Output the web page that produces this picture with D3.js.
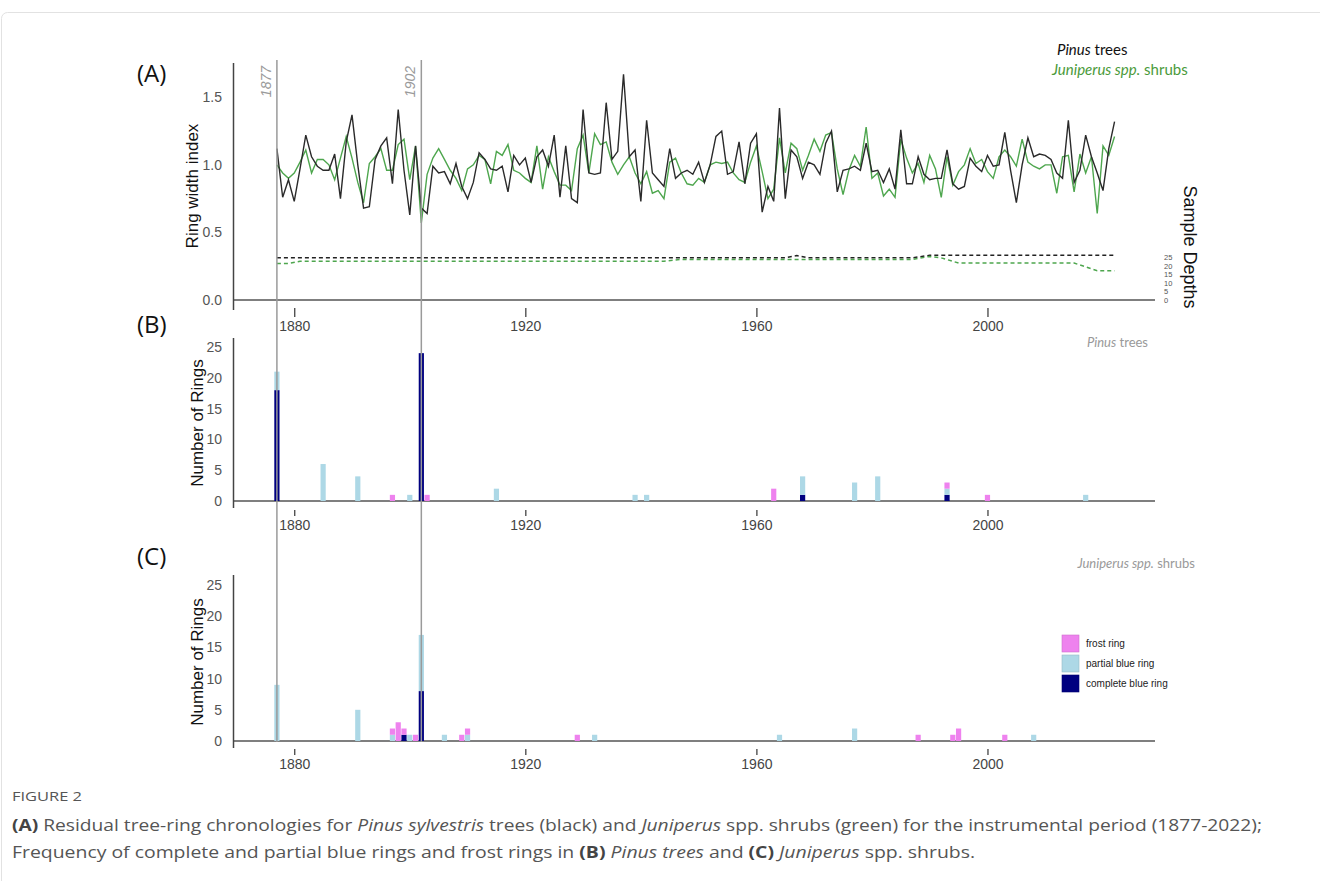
<!DOCTYPE html>
<html>
<head>
<meta charset="utf-8">
<script src="https://cdn.jsdelivr.net/npm/d3@7"></script>
<style>
  body { margin: 0; background: #fff; }
  svg { display: block; }
</style>
</head>
<body>
<div id="chart"></div>
<script>
// ---- data ----
const firstYear = 1877, lastYear = 2022;
const years = d3.range(firstYear, lastYear + 1);

// residual ring width index, Pinus sylvestris (black)
const pinusRwi = [
  1.12, 0.76, 0.89, 0.73, 0.97, 1.22, 1.06, 0.99, 0.96, 0.96,
  1.08, 0.75, 1.17, 1.37, 1.00, 0.68, 0.69, 1.04, 1.14, 1.20,
  0.86, 1.41, 0.96, 0.63, 1.14, 0.68, 0.64, 0.99, 0.94, 0.95,
  0.86, 1.01, 0.84, 0.75, 0.87, 1.09, 1.04, 0.97, 0.96, 0.99,
  0.80, 1.07, 1.00, 1.05, 0.87, 1.06, 1.11, 0.99, 1.22, 0.76,
  1.14, 0.75, 0.72, 1.41, 0.94, 0.93, 0.94, 1.46, 1.04, 1.10,
  1.67, 1.06, 1.11, 0.73, 1.33, 0.94, 0.89, 0.84, 1.12, 0.90,
  0.94, 0.96, 0.93, 1.02, 0.87, 1.00, 1.21, 1.25, 0.93, 0.95,
  1.17, 0.86, 1.16, 1.23, 0.65, 0.84, 0.73, 1.42, 0.75, 1.11,
  1.06, 0.90, 1.02, 1.00, 0.93, 1.16, 1.25, 0.80, 0.96, 0.97,
  0.99, 0.96, 1.16, 0.95, 0.96, 0.87, 0.97, 0.82, 1.26, 0.86,
  0.86, 1.06, 0.93, 0.89, 0.90, 0.90, 1.11, 0.86, 0.82, 0.84,
  1.05, 0.99, 0.95, 1.07, 0.99, 1.00, 1.24, 0.96, 0.72, 1.00,
  1.20, 1.06, 1.08, 1.07, 1.04, 0.94, 0.90, 1.33, 0.87, 0.96,
  1.22, 1.06, 0.94, 0.81, 1.12, 1.32
];

// residual ring width index, Juniperus spp. (green)
const juniperusRwi = [
  1.00, 0.94, 0.90, 0.94, 1.02, 1.11, 0.94, 1.04, 1.04, 1.00,
  0.89, 1.05, 1.21, 1.05, 0.87, 0.72, 1.01, 1.06, 1.12, 0.96,
  0.96, 1.15, 1.19, 0.89, 1.14, 0.57, 0.93, 1.05, 1.12, 1.04,
  0.96, 0.90, 0.81, 0.97, 1.00, 1.07, 1.04, 0.86, 1.10, 1.07,
  1.15, 0.96, 0.94, 0.90, 0.87, 1.14, 0.82, 1.06, 0.95, 0.85,
  0.85, 0.81, 1.12, 1.22, 0.94, 1.23, 1.15, 1.17, 1.02, 0.93,
  1.00, 1.06, 0.94, 0.86, 0.95, 0.79, 0.81, 0.75, 1.02, 1.05,
  0.94, 0.86, 0.85, 0.90, 0.87, 1.00, 1.02, 1.01, 1.02, 0.94,
  0.89, 0.87, 1.02, 1.14, 0.95, 0.75, 0.82, 1.20, 0.94, 1.16,
  1.12, 0.96, 1.07, 1.19, 1.10, 1.22, 1.24, 0.97, 0.78, 0.96,
  1.07, 0.99, 1.28, 0.90, 0.94, 0.77, 0.82, 0.76, 1.19, 1.05,
  0.94, 1.01, 0.87, 1.07, 0.97, 0.76, 1.06, 0.85, 0.95, 1.00,
  1.12, 1.01, 1.04, 0.95, 0.90, 1.06, 1.11, 1.06, 0.99, 1.19,
  1.02, 0.99, 0.97, 1.00, 1.00, 0.79, 1.06, 1.07, 0.80, 1.08,
  0.94, 1.06, 0.64, 1.14, 1.07, 1.21
];

// sample depth (year, number of series)
const pinusDepth = [[1877, 24.5], [1965, 24.5], [1967, 25.8], [1969, 24.5], [1987, 24.5], [1990, 26], [2022, 26]];
const juniperusDepth = [[1877, 21.2], [1879, 21.2], [1881, 22.5], [1944, 22.5], [1947, 23.6], [1987, 23.6],
  [1990, 25.3], [1992, 24.5], [1995, 21.5], [2015, 21.5], [2019, 17], [2022, 17]];

// ring anomalies, Pinus trees (B)
const pinusYears    = [1877, 1885, 1891, 1897, 1900, 1902, 1903, 1915, 1939, 1941, 1963, 1968, 1977, 1981, 1993, 2000, 2017];
const pinusComplete = [  18,    0,    0,    0,    0,   24,    0,    0,    0,    0,    0,    1,    0,    0,    1,    0,    0];
const pinusPartial  = [   3,    6,    4,    0,    1,    0,    0,    2,    1,    1,    0,    3,    3,    4,    1,    0,    1];
const pinusFrost    = [   0,    0,    0,    1,    0,    0,    1,    0,    0,    0,    2,    0,    0,    0,    1,    1,    0];

// ring anomalies, Juniperus shrubs (C)
const junYears    = [1877, 1891, 1897, 1898, 1899, 1900, 1901, 1902, 1906, 1909, 1910, 1929, 1932, 1964, 1977, 1988, 1994, 1995, 2003, 2008];
const junComplete = [   0,    0,    0,    0,    1,    0,    0,    8,    0,    0,    0,    0,    0,    0,    0,    0,    0,    0,    0,    0];
const junPartial  = [   9,    5,    1,    0,    0,    1,    0,    9,    1,    0,    1,    0,    1,    1,    2,    0,    0,    0,    0,    1];
const junFrost    = [   0,    0,    1,    3,    1,    0,    1,    0,    0,    1,    1,    1,    0,    0,    0,    1,    1,    2,    1,    0];

const xTicks = [1880, 1920, 1960, 2000];
const rwiTicks = [0, 0.5, 1.0, 1.5];
const countTicks = [0, 5, 10, 15, 20, 25];
const depthTicks = [0, 5, 10, 15, 20, 25];
const markerYears = [1877, 1902];

const ringKeys = ["complete", "partial", "frost"];
const ringLabels = {frost: "frost ring", partial: "partial blue ring", complete: "complete blue ring"};
const ringColors = {frost: "#ee82ee", partial: "#add8e6", complete: "#000080"};

// ---- svg ----
const width = 1320, height = 881;
const svg = d3.select("#chart").append("svg")
  .attr("width", width).attr("height", height)
  .style("font-family", "'Liberation Sans', Arial, sans-serif");

svg.append("rect").attr("width", width).attr("height", height).attr("fill", "#fff");

// page frame
svg.append("rect")
  .attr("x", 1.5).attr("y", 12.5).attr("width", width + 20).attr("height", height + 20)
  .attr("rx", 6).attr("fill", "none").attr("stroke", "#e2e2e2");

const x = d3.scaleLinear().domain([1869.4, 2029]).range([233, 1155]);

const yA = d3.scaleLinear().domain([0, 1.75]).range([300, 63.5]);
const yDepth = d3.scaleLinear().domain([0, 25]).range([300, 257]);
const yB = d3.scaleLinear().domain([0, 25]).range([501, 347]);
const yC = d3.scaleLinear().domain([0, 25]).range([741, 585]);

const tickColor = "#555";

function xAxisAt(yLine, gap, size, pad) {
  svg.append("line")
    .attr("x1", 233).attr("x2", 1155)
    .attr("y1", yLine).attr("y2", yLine)
    .attr("stroke", "#555").attr("stroke-width", 1.6);
  const g = svg.append("g")
    .attr("transform", `translate(0,${yLine + gap})`)
    .call(d3.axisBottom(x).tickValues(xTicks).tickSize(size).tickPadding(pad).tickFormat(d3.format("d")));
  g.select(".domain").remove();
  g.selectAll(".tick line").attr("stroke", "#444").attr("stroke-width", 1.3);
  g.selectAll(".tick text").attr("fill", "#444").style("font-size", "14px")
    .style("font-family", "'Liberation Sans', Arial, sans-serif");
}

function yAxisAt(scale, ticks, fmt, top, bottom) {
  svg.append("line")
    .attr("x1", 233.5).attr("x2", 233.5)
    .attr("y1", top).attr("y2", bottom)
    .attr("stroke", "#444").attr("stroke-width", 1.5);
  const g = svg.append("g")
    .attr("transform", "translate(233,0)")
    .call(d3.axisLeft(scale).tickValues(ticks).tickSize(0).tickPadding(11).tickFormat(fmt));
  g.select(".domain").remove();
  g.selectAll(".tick text").attr("fill", tickColor).style("font-size", "14px")
    .style("font-family", "'Liberation Sans', Arial, sans-serif");
}

function rotatedLabel(text, cx, cy, angle, size) {
  svg.append("text")
    .attr("transform", `translate(${cx},${cy}) rotate(${angle})`)
    .attr("text-anchor", "middle")
    .attr("dominant-baseline", "central")
    .style("font-size", size + "px")
    .attr("fill", "#111")
    .text(text);
}

function panelTag(text, px, py) {
  svg.append("text").attr("x", px).attr("y", py)
    .style("font-family", "'Open Sans', sans-serif")
    .style("font-size", "24px").attr("fill", "#111").text(text);
}

// ---- panel A ----
xAxisAt(yA(0), 8, 9, 4);
yAxisAt(yA, rwiTicks, d3.format(".1f"), 63, 310);
rotatedLabel("Ring width index", 192, 186, -90, 17);
rotatedLabel("Sample Depths", 1190, 247, 90, 18);

// right-hand depth axis: the ticks sit very close together, so they stay small
const depthAxis = svg.append("g")
  .attr("transform", "translate(1162,0)")
  .call(d3.axisRight(yDepth).tickValues(depthTicks).tickSize(0).tickPadding(2));
depthAxis.select(".domain").remove();
depthAxis.selectAll(".tick text").attr("fill", tickColor).style("font-size", "7.5px");

const rwiLine = d3.line().x((d, i) => x(years[i])).y(d => yA(d));
const depthLine = d3.line().x(d => x(d[0])).y(d => yDepth(d[1]));

svg.append("path").datum(pinusDepth).attr("d", depthLine)
  .attr("fill", "none").attr("stroke", "#222").attr("stroke-width", 1.5).attr("stroke-dasharray", "4,3");
svg.append("path").datum(juniperusDepth).attr("d", depthLine)
  .attr("fill", "none").attr("stroke", "#4ea64e").attr("stroke-width", 1.5).attr("stroke-dasharray", "4,3");

svg.append("path").datum(juniperusRwi).attr("d", rwiLine)
  .attr("fill", "none").attr("stroke", "#4ea64e").attr("stroke-width", 1.4);
svg.append("path").datum(pinusRwi).attr("d", rwiLine)
  .attr("fill", "none").attr("stroke", "#2a2a2a").attr("stroke-width", 1.4);

// species legend, top right
const legA = svg.append("g").style("font-family", "Lato, 'Open Sans', sans-serif").style("font-size", "15px");
const l1 = legA.append("text").attr("x", 1057).attr("y", 55).attr("fill", "#111");
l1.append("tspan").style("font-style", "italic").text("Pinus");
l1.append("tspan").text(" trees");
const l2 = legA.append("text").attr("x", 1052).attr("y", 75).attr("fill", "#4a9a3a");
l2.append("tspan").style("font-style", "italic").text("Juniperus spp.");
l2.append("tspan").text(" shrubs");

// ---- panel B ----
xAxisAt(yB(0), 9, 6, 4);
yAxisAt(yB, countTicks, d3.format("d"), 338, 508);
rotatedLabel("Number of Rings", 197, 423, -90, 17);

// ---- panel C ----
xAxisAt(yC(0), 8, 6, 4);
yAxisAt(yC, countTicks, d3.format("d"), 575, 748);
rotatedLabel("Number of Rings", 197, 662, -90, 17);

function ringBars(yrs, complete, partial, frost, yScale) {
  const rows = yrs.map((yr, i) => ({year: yr, complete: complete[i], partial: partial[i], frost: frost[i]}));
  const series = d3.stack().keys(ringKeys)(rows);
  const bw = 5.2;
  svg.append("g").selectAll("g").data(series).join("g")
    .attr("fill", d => ringColors[d.key])
    .selectAll("rect").data(d => d.filter(s => s[1] > s[0])).join("rect")
    .attr("x", d => x(d.data.year) - bw / 2)
    .attr("width", bw)
    .attr("y", d => yScale(d[1]))
    .attr("height", d => yScale(d[0]) - yScale(d[1]));
}
ringBars(pinusYears, pinusComplete, pinusPartial, pinusFrost, yB);
ringBars(junYears, junComplete, junPartial, junFrost, yC);

// panel titles in grey
const tB = svg.append("text").attr("x", 1148).attr("y", 347).attr("text-anchor", "end")
  .style("font-family", "Lato, 'Open Sans', sans-serif").style("font-size", "13px").attr("fill", "#999");
tB.append("tspan").style("font-style", "italic").text("Pinus");
tB.append("tspan").text(" trees");
const tC = svg.append("text").attr("x", 1195).attr("y", 568).attr("text-anchor", "end")
  .style("font-family", "Lato, 'Open Sans', sans-serif").style("font-size", "13px").attr("fill", "#999");
tC.append("tspan").style("font-style", "italic").text("Juniperus spp.");
tC.append("tspan").text(" shrubs");

// ring legend
const leg = svg.append("g").attr("transform", "translate(1062,635)");
["frost", "partial", "complete"].forEach((k, i) => {
  leg.append("rect").attr("x", 0).attr("y", i * 20).attr("width", 17).attr("height", 17)
    .attr("fill", ringColors[k]).attr("stroke", d3.color(ringColors[k]).darker(0.4)).attr("stroke-width", 0.6);
  leg.append("text").attr("x", 24).attr("y", i * 20 + 12).style("font-size", "10px")
    .attr("fill", "#222").text(ringLabels[k]);
});

// ---- marker years across all panels ----
markerYears.forEach(yr => {
  svg.append("line")
    .attr("x1", x(yr)).attr("x2", x(yr)).attr("y1", 60).attr("y2", 742)
    .attr("stroke", "#9a9a9a").attr("stroke-width", 1.5);
  svg.append("text")
    .attr("transform", `translate(${x(yr) - 6},66) rotate(-90)`)
    .attr("text-anchor", "end")
    .style("font-size", "14px").style("font-style", "italic")
    .attr("fill", "#9a9a9a").text(yr);
});

panelTag("(A)", 137, 82);
panelTag("(B)", 137, 333);
panelTag("(C)", 137, 565);

// ---- caption ----
const cap = svg.append("g").style("font-family", "'Open Sans', sans-serif").attr("fill", "#555");
cap.append("text").attr("x", 12).attr("y", 801).style("font-size", "13px")
  .attr("textLength", 70).attr("lengthAdjust", "spacingAndGlyphs").text("FIGURE 2");
const c1 = cap.append("text").attr("x", 12).attr("y", 831).style("font-size", "16px")
  .attr("textLength", 1250).attr("lengthAdjust", "spacingAndGlyphs");
c1.append("tspan").style("font-weight", "bold").attr("fill", "#444").text("(A)");
c1.append("tspan").text(" Residual tree-ring chronologies for ");
c1.append("tspan").style("font-style", "italic").text("Pinus sylvestris");
c1.append("tspan").text(" trees (black) and ");
c1.append("tspan").style("font-style", "italic").text("Juniperus");
c1.append("tspan").text(" spp. shrubs (green) for the instrumental period (1877-2022);");
const c2 = cap.append("text").attr("x", 12).attr("y", 858).style("font-size", "16px")
  .attr("textLength", 963).attr("lengthAdjust", "spacingAndGlyphs");
c2.append("tspan").text("Frequency of complete and partial blue rings and frost rings in ");
c2.append("tspan").style("font-weight", "bold").attr("fill", "#444").text("(B)");
c2.append("tspan").text(" ");
c2.append("tspan").style("font-style", "italic").text("Pinus trees");
c2.append("tspan").text(" and ");
c2.append("tspan").style("font-weight", "bold").attr("fill", "#444").text("(C)");
c2.append("tspan").text(" ");
c2.append("tspan").style("font-style", "italic").text("Juniperus");
c2.append("tspan").text(" spp. shrubs.");
</script>
</body>
</html>
